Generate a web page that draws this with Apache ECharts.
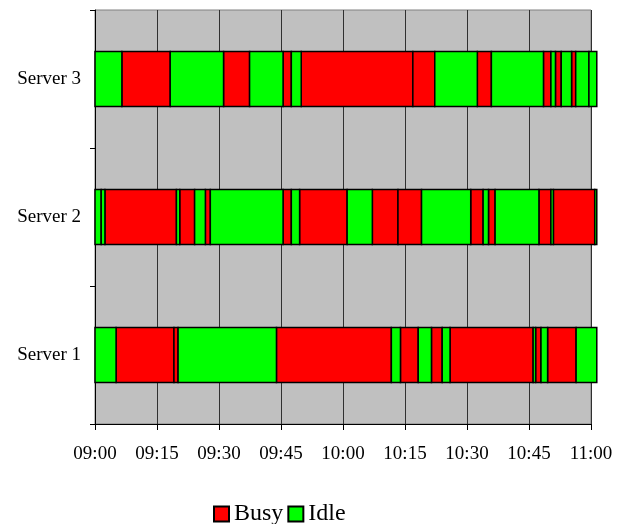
<!DOCTYPE html>
<html>
<head>
<meta charset="utf-8">
<script src="https://cdn.jsdelivr.net/npm/echarts@6/dist/echarts.min.js"></script>
<style>
  html, body { margin: 0; padding: 0; background: #ffffff; }
  #chart { width: 626px; height: 524px; }
</style>
</head>
<body>
<div id="chart"></div>
<script>
// Servers, listed bottom to top on the category axis
const servers = ['Server 1', 'Server 2', 'Server 3'];

// Consecutive state durations (minutes from 09:00) for each server
const server1Minutes = [5.1, 14.0, 1.0, 23.8, 27.8, 2.2, 4.3, 3.2, 2.6, 1.9, 20.1, 0.6, 1.3, 1.6, 6.9, 5.0];
const server1States  = ['Idle','Busy','Busy','Idle','Busy','Idle','Busy','Idle','Busy','Idle','Busy','Idle','Busy','Idle','Busy','Idle'];

const server2Minutes = [1.5, 0.9, 17.3, 0.8, 3.6, 2.6, 1.2, 17.6, 2.0, 2.0, 11.5, 6.1, 6.2, 5.7, 11.9, 3.0, 1.3, 1.6, 10.6, 2.9, 0.6, 10.0, 0.5];
const server2States  = ['Idle','Idle','Busy','Idle','Busy','Idle','Busy','Idle','Busy','Idle','Busy','Idle','Busy','Busy','Idle','Busy','Idle','Busy','Idle','Busy','Idle','Busy','Idle'];

const server3Minutes = [6.5, 11.7, 12.9, 6.3, 8.1, 2.0, 2.4, 27.0, 5.3, 10.3, 3.4, 12.6, 1.8, 1.1, 1.4, 2.5, 1.0, 3.2, 1.9];
const server3States  = ['Idle','Busy','Idle','Busy','Idle','Busy','Idle','Busy','Busy','Idle','Busy','Idle','Busy','Idle','Busy','Idle','Busy','Idle','Idle'];

// Time axis: minutes after the start hour, one tick every quarter hour
const startHour = 9;
const axisMinutes = [0, 120];
const tickStep = 15;

const stateNames = ['Busy', 'Idle'];
const stateColors = { Busy: '#FF0000', Idle: '#00FF00' };

const durations = [server1Minutes, server2Minutes, server3Minutes];
const states = [server1States, server2States, server3States];

// Turn durations into [start, end, serverIndex] spans grouped by state
const spans = { Busy: [], Idle: [] };
durations.forEach(function (list, s) {
  let t = 0;
  list.forEach(function (d, i) {
    spans[states[s][i]].push([t, t + d, s]);
    t += d;
  });
});

function fmtTime(m) {
  const h = startHour + Math.floor(m / 60);
  const mm = Math.round(m % 60);
  return (h < 10 ? '0' : '') + h + ':' + (mm < 10 ? '0' : '') + mm;
}

function renderSpan(params, api) {
  const start = api.coord([api.value(0), api.value(2)]);
  const end = api.coord([api.value(1), api.value(2)]);
  const h = api.size([0, 1])[1] * 0.4;
  return {
    type: 'rect',
    shape: { x: start[0], y: start[1] - h / 2, width: end[0] - start[0], height: h },
    style: api.style({ stroke: '#000000', lineWidth: 1.5 })
  };
}

const font = '"Liberation Serif", "Times New Roman", serif';

const chart = echarts.init(document.getElementById('chart'), null, { renderer: 'canvas' });
chart.setOption({
  animation: false,
  backgroundColor: '#ffffff',
  textStyle: { fontFamily: font },
  grid: {
    left: 95, right: 35, top: 10, bottom: 100,
    show: true, backgroundColor: '#C0C0C0', borderColor: '#808080', borderWidth: 1
  },
  legend: {
    top: 497, left: 208,
    icon: 'rect', itemWidth: 15, itemHeight: 15, itemGap: 4,
    textStyle: { fontFamily: font, fontSize: 24, color: '#000000' },
    data: stateNames
  },
  xAxis: {
    type: 'value',
    min: axisMinutes[0], max: axisMinutes[1], interval: tickStep,
    axisLine: { show: true, lineStyle: { color: '#000000', width: 1 } },
    axisTick: { show: true, length: 6, lineStyle: { color: '#000000' } },
    splitLine: { show: true, lineStyle: { color: '#303030', width: 1 } },
    axisLabel: { formatter: fmtTime, color: '#000000', fontSize: 19, fontFamily: font, margin: 21 }
  },
  yAxis: {
    type: 'category',
    data: servers,
    axisLine: { show: true, lineStyle: { color: '#000000', width: 1 } },
    axisTick: { show: true, length: 5, inside: false, lineStyle: { color: '#000000' } },
    splitLine: { show: false },
    axisLabel: { color: '#000000', fontSize: 19, fontFamily: font, margin: 14 }
  },
  series: stateNames.map(function (name) {
    return {
      name: name,
      type: 'custom',
      clip: false,
      renderItem: renderSpan,
      itemStyle: { color: stateColors[name], borderColor: '#000000', borderWidth: 1 },
      encode: { x: [0, 1], y: 2 },
      data: spans[name]
    };
  })
});
</script>
</body>
</html>
